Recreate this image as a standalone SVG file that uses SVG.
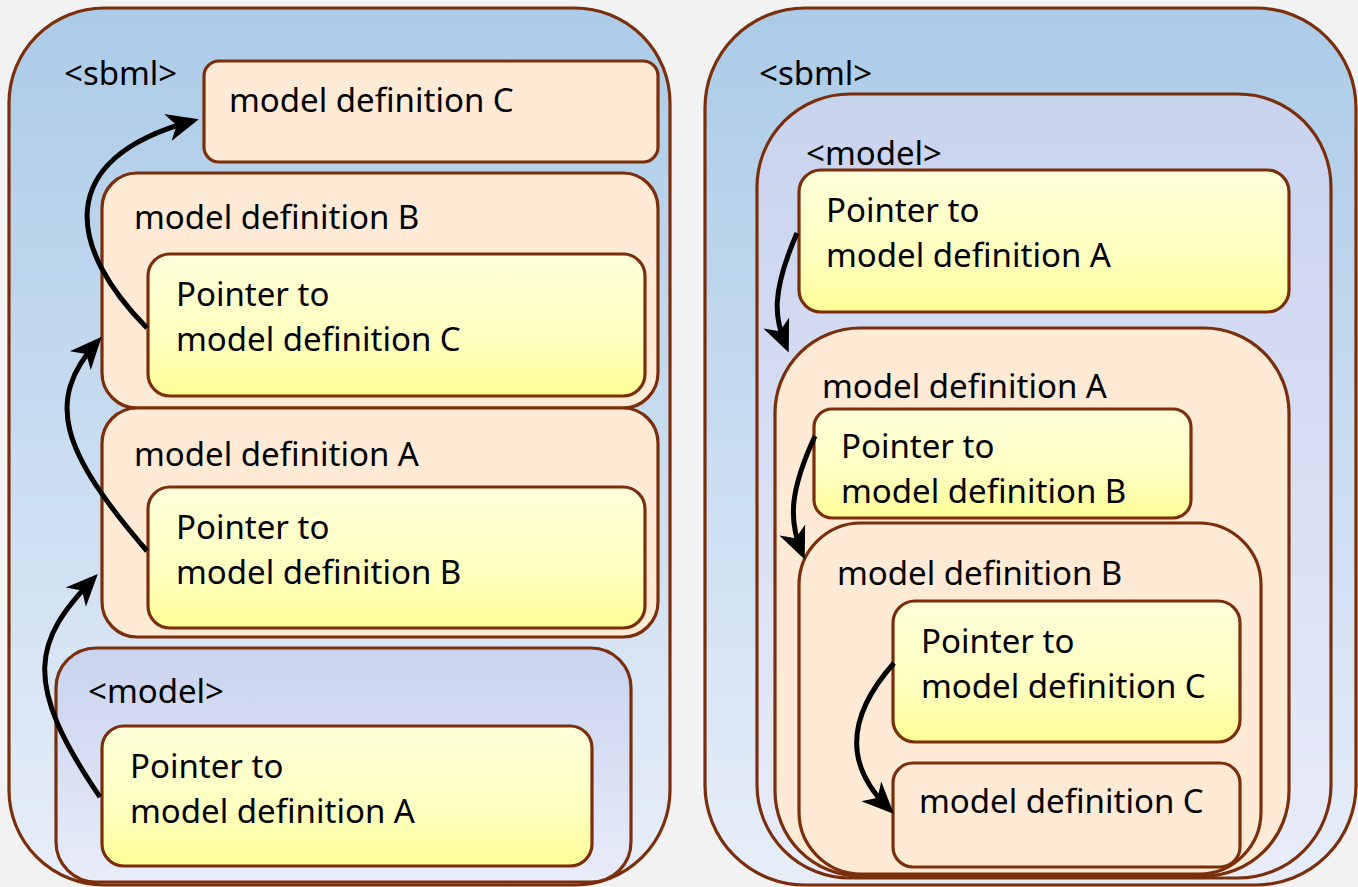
<svg xmlns="http://www.w3.org/2000/svg" width="1358" height="887" viewBox="0 0 1358 887">
<defs>
<linearGradient id="gBlue" x1="0" y1="0" x2="0" y2="1">
<stop offset="0" stop-color="#abcbe7"/>
<stop offset="1" stop-color="#e7eef9"/>
</linearGradient>
<linearGradient id="gLav" x1="0" y1="0" x2="0" y2="1">
<stop offset="0" stop-color="#c8d3ee"/>
<stop offset="1" stop-color="#e9ecf9"/>
</linearGradient>
<linearGradient id="gYel" x1="0" y1="0" x2="0" y2="1">
<stop offset="0" stop-color="#ffffdb"/>
<stop offset="0.6" stop-color="#ffffc0"/>
<stop offset="1" stop-color="#ffff96"/>
</linearGradient>
<marker id="arr" viewBox="-32 -16 42 32" markerWidth="42" markerHeight="32" refX="0" refY="0" orient="auto" markerUnits="userSpaceOnUse">
<path d="M7,0 L-25,-14 L-16,0 L-25,14 Z" fill="#000"/>
</marker>
</defs>
<style>
.box{stroke:#7a2e0c;stroke-width:3.2}
.sbml{fill:url(#gBlue)}
.model{fill:url(#gLav)}
.def{fill:#feead5}
.ptr{fill:url(#gYel)}
.t{font-family:"Noto Sans","DejaVu Sans",sans-serif;font-size:33px;fill:#000}
.c{fill:none;stroke:#000;stroke-width:5;marker-end:url(#arr)}
</style>
<rect width="1358" height="887" fill="#f2f2f2"/>

<g id="left-sbml">
<rect class="box sbml" x="9" y="8" width="661" height="877" rx="95" ry="95"/>
<text class="t" x="64" y="85">&lt;sbml&gt;</text>
</g>
<g id="left-defC">
<rect class="box def" x="204" y="61" width="454" height="101" rx="15" ry="15"/>
<text class="t" x="229" y="112">model definition C</text>
</g>
<g id="left-defB">
<rect class="box def" x="102" y="173" width="556" height="235" rx="35" ry="35"/>
<text class="t" x="134" y="229">model definition B</text>
</g>
<g id="left-ptrC">
<rect class="box ptr" x="148" y="254" width="497" height="142" rx="22" ry="22"/>
<text class="t" x="176" y="306">Pointer to</text>
<text class="t" x="176" y="351">model definition C</text>
</g>
<g id="left-defA">
<rect class="box def" x="102" y="408" width="556" height="229" rx="35" ry="35"/>
<text class="t" x="134" y="466">model definition A</text>
</g>
<g id="left-ptrB">
<rect class="box ptr" x="148" y="487" width="497" height="141" rx="22" ry="22"/>
<text class="t" x="176" y="539">Pointer to</text>
<text class="t" x="176" y="584">model definition B</text>
</g>
<g id="left-model">
<rect class="box model" x="56" y="648" width="575" height="234" rx="40" ry="40"/>
<text class="t" x="88" y="703">&lt;model&gt;</text>
</g>
<g id="left-ptrA">
<rect class="box ptr" x="102" y="726" width="490" height="140" rx="22" ry="22"/>
<text class="t" x="130" y="778">Pointer to</text>
<text class="t" x="130" y="823">model definition A</text>
</g>

<g id="right-sbml">
<rect class="box sbml" x="705" y="8" width="651" height="877" rx="100" ry="100"/>
<text class="t" x="759" y="85">&lt;sbml&gt;</text>
</g>
<g id="right-model">
<rect class="box model" x="757" y="94" width="574" height="784" rx="93" ry="93"/>
<text class="t" x="806" y="165">&lt;model&gt;</text>
</g>
<g id="right-ptrA">
<rect class="box ptr" x="799" y="170" width="490" height="142" rx="22" ry="22"/>
<text class="t" x="826" y="222">Pointer to</text>
<text class="t" x="826" y="267">model definition A</text>
</g>
<g id="right-defA">
<rect class="box def" x="775" y="328" width="514" height="548" rx="85" ry="85"/>
<text class="t" x="822" y="398">model definition A</text>
</g>
<g id="right-ptrB">
<rect class="box ptr" x="814" y="409" width="377" height="109" rx="18" ry="18"/>
<text class="t" x="841" y="458">Pointer to</text>
<text class="t" x="841" y="503">model definition B</text>
</g>
<g id="right-defB">
<rect class="box def" x="799" y="523" width="462" height="351" rx="62" ry="62"/>
<text class="t" x="837" y="585">model definition B</text>
</g>
<g id="right-ptrC">
<rect class="box ptr" x="893" y="601" width="347" height="141" rx="22" ry="22"/>
<text class="t" x="921" y="653">Pointer to</text>
<text class="t" x="921" y="698">model definition C</text>
</g>
<g id="right-defC">
<rect class="box def" x="893" y="763" width="347" height="104" rx="20" ry="20"/>
<text class="t" x="919" y="813">model definition C</text>
</g>

<g id="connectors">
<path class="c" d="M100,797 C20,680 35,640 93,579"/>
<path class="c" d="M147,551 C60,450 45,400 97,342"/>
<path class="c" d="M147,328 C70,250 50,160 192,121"/>
<path class="c" d="M797,233 C770,295 775,320 786,346"/>
<path class="c" d="M815,436 C790,490 788,520 802,553"/>
<path class="c" d="M894,663 C830,735 862,782 889,809"/>
</g>
</svg>
